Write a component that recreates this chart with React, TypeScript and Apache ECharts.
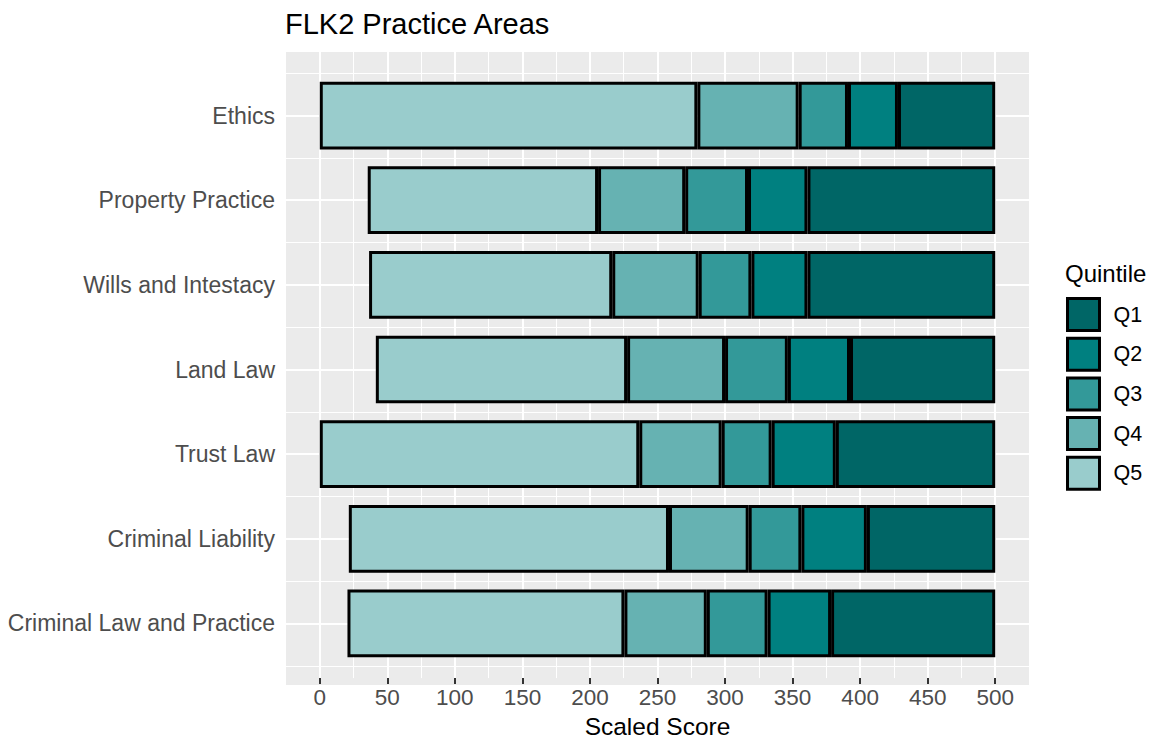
import React, { useEffect, useRef } from "react";
import * as echarts from "echarts";

const categories = [
  "Ethics",
  "Property Practice",
  "Wills and Intestacy",
  "Land Law",
  "Trust Law",
  "Criminal Liability",
  "Criminal Law and Practice",
];
// Boundaries of each bar's segments (scaled score)
const barStart = [0, 35.5, 36.5, 41.5, 0, 21.5, 20.5];
const q5End = [279.5, 206, 216.5, 227.5, 236.5, 258.5, 225.5];
const q4End = [354.5, 270.5, 280.5, 300, 297.5, 317.5, 286.5];
const q3End = [391, 317, 319.5, 346.5, 334.5, 356.5, 331.5];
const q2End = [428, 361, 361, 392.5, 382, 405, 378.5];
const q1End = [500, 500, 500, 500, 500, 500, 500];

const quintiles = ["Q1", "Q2", "Q3", "Q4", "Q5"];
const colors: Record<string, string> = {
  Q1: "#006666",
  Q2: "#008080",
  Q3: "#339999",
  Q4: "#66B2B2",
  Q5: "#99CCCC",
};
const xTicks = { min: 0, max: 500, interval: 50 };

const FONT = "'Liberation Sans', Arial, sans-serif";

export default function App() {
  const ref = useRef<HTMLDivElement>(null);
  useEffect(() => {
    if (!ref.current) return;
    const chart = echarts.init(ref.current, undefined, { renderer: "svg" });
    const diff = (a: number[], b: number[]) => a.map((v, i) => +(v - b[i]).toFixed(2));
    const segs: Record<string, number[]> = {
      Q5: diff(q5End, barStart),
      Q4: diff(q4End, q5End),
      Q3: diff(q3End, q4End),
      Q2: diff(q2End, q3End),
      Q1: diff(q1End, q2End),
    };
    const panelLeft = 286;
    const panelRight = 1158 - 1029;
    const panelTop = 52;
    const panelBottom = 744 - 685;
    const pxPerUnit = (1029 - 286) / 550;
    const bandTop = 73.2;
    const bandBottom = 744 - 665.8;

    const barSeries = ["Q5", "Q4", "Q3", "Q2", "Q1"].map((q) => ({
      name: q,
      type: "bar",
      stack: "total",
      xAxisIndex: 2,
      yAxisIndex: 2,
      barWidth: "80%",
      clip: false,
      itemStyle: { color: colors[q], borderColor: "#000", borderWidth: 3 },
      emphasis: { disabled: true },
      data: segs[q],
    }));

    chart.setOption({
      animation: false,
      textStyle: { fontFamily: FONT },
      title: [
        {
          text: "FLK2 Practice Areas",
          left: 285,
          top: 9,
          padding: 0,
          textStyle: { fontSize: 29, fontWeight: "normal", color: "#000", fontFamily: FONT },
        },
        {
          text: "Quintile",
          left: 1065,
          top: 261,
          padding: 0,
          textStyle: { fontSize: 24, fontWeight: "normal", color: "#000", fontFamily: FONT },
        },
      ],
      legend: {
        data: quintiles,
        orient: "vertical",
        left: 1066,
        top: 297,
        padding: 0,
        itemWidth: 32,
        itemHeight: 32,
        itemGap: 4.7,
        icon: "rect",
        selectedMode: false,
        itemStyle: { borderColor: "#000", borderWidth: 3 },
        textStyle: { fontSize: 21.5, color: "#000", fontFamily: FONT, padding: [0, 0, 0, 9] },
      },
      grid: [
        {
          left: panelLeft,
          right: panelRight,
          top: panelTop,
          bottom: panelBottom,
          show: true,
          backgroundColor: "#EBEBEB",
          borderWidth: 0,
        },
        {
          left: panelLeft + 25 * pxPerUnit,
          right: panelRight + 25 * pxPerUnit,
          top: panelTop,
          bottom: panelBottom,
        },
        {
          left: panelLeft,
          right: panelRight,
          top: bandTop,
          bottom: bandBottom,
        },
      ],
      xAxis: [
        { type: "value", gridIndex: 0, show: false, min: -25, max: 525 },
        {
          type: "value",
          gridIndex: 1,
          min: xTicks.min,
          max: xTicks.max,
          interval: xTicks.interval,
          axisLine: { show: false },
          axisTick: { show: true, length: 6, lineStyle: { color: "#333333", width: 2 } },
          axisLabel: { color: "#4D4D4D", fontSize: 22.5, margin: 8, fontFamily: FONT },
          splitLine: { show: true, lineStyle: { color: "#FFFFFF", width: 2 } },
          minorTick: { show: false, splitNumber: 2 },
          minorSplitLine: { show: true, lineStyle: { color: "#FFFFFF", width: 1 } },
          name: "Scaled Score",
          nameLocation: "middle",
          nameGap: 32,
          nameTextStyle: { fontSize: 24.5, color: "#000", fontFamily: FONT },
        },
        { type: "value", gridIndex: 2, show: false, min: -25, max: 525 },
      ],
      yAxis: [
        { type: "value", gridIndex: 0, show: false },
        { type: "value", gridIndex: 1, show: false },
        {
          type: "category",
          gridIndex: 2,
          data: categories,
          inverse: true,
          position: "left",
          axisLine: { show: false },
          axisTick: {
            show: true,
            alignWithLabel: true,
            interval: 0,
            length: 6,
            lineStyle: { color: "#333333", width: 2 },
          },
          axisLabel: { color: "#4D4D4D", fontSize: 23, margin: 11, interval: 0, fontFamily: FONT },
          splitLine: { show: true, interval: 0, lineStyle: { color: "#FFFFFF", width: 1 } },
        },
        {
          type: "category",
          gridIndex: 2,
          data: categories,
          inverse: true,
          position: "left",
          axisLine: { show: false },
          axisLabel: { show: false },
          splitLine: { show: false },
          axisTick: {
            show: true,
            inside: true,
            alignWithLabel: true,
            interval: 0,
            length: 743,
            lineStyle: { color: "#FFFFFF", width: 2 },
          },
        },
      ],
      series: [
        {
          name: "base",
          type: "bar",
          stack: "total",
          xAxisIndex: 2,
          yAxisIndex: 2,
          barWidth: "80%",
          itemStyle: { color: "transparent", borderWidth: 0 },
          emphasis: { disabled: true },
          data: barStart,
        },
        ...barSeries,
      ],
    });
    return () => chart.dispose();
  }, []);
  return (
    <div
      ref={ref}
      style={{ position: "fixed", left: 0, top: 0, width: 1158, height: 744, background: "#fff" }}
    />
  );
}
